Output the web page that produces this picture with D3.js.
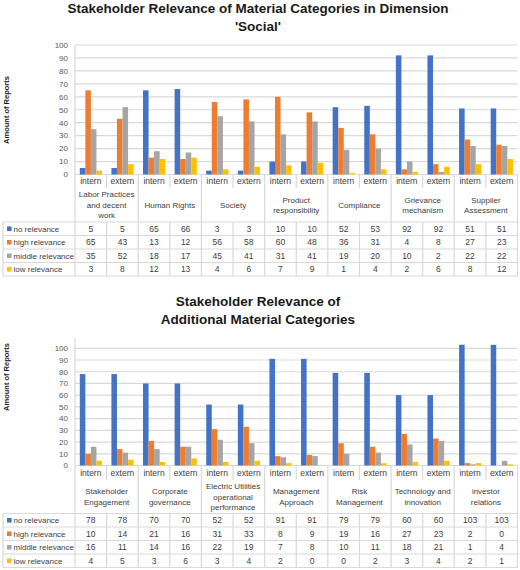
<!DOCTYPE html>
<html>
<head>
<meta charset="utf-8">
<script src="https://cdn.jsdelivr.net/npm/d3@7"></script>
<style>
  body { margin: 0; background: #fff; }
  svg { display: block; font-family: "Liberation Sans", Arial, sans-serif; }
</style>
</head>
<body>
<div id="chart"></div>
<script>
// series shared by both charts
const seriesNames = ["no relevance", "high relevance", "middle relevance", "low relevance"];
const seriesColors = ["#4472C4", "#ED7D31", "#A5A5A5", "#FFC000"];
const subLabels = ["intern", "extern"];
const yTicks = [0, 10, 20, 30, 40, 50, 60, 70, 80, 90, 100];

// chart 1: dimension 'Social'
const socialTitle = ["Stakeholder Relevance of Material Categories in Dimension", "'Social'"];
const socialCategories = [
    ["Labor Practices", "and decent", "work"],
    ["Human Rights"],
    ["Society"],
    ["Product", "responsibility"],
    ["Compliance"],
    ["Grievance", "mechanism"],
    ["Supplier", "Assessment"]
];
const socialNo     = [5, 5, 65, 66, 3, 3, 10, 10, 52, 53, 92, 92, 51, 51];
const socialHigh   = [65, 43, 13, 12, 56, 58, 60, 48, 36, 31, 4, 8, 27, 23];
const socialMiddle = [35, 52, 18, 17, 45, 41, 31, 41, 19, 20, 10, 2, 22, 22];
const socialLow    = [3, 8, 12, 13, 4, 6, 7, 9, 1, 4, 2, 6, 8, 12];

// chart 2: additional categories
const addTitle = ["Stakeholder Relevance of", "Additional Material Categories"];
const addCategories = [
    ["Stakeholder", "Engagement"],
    ["Corporate", "governance"],
    ["Electric Utilities", "operational", "performance"],
    ["Management", "Approach"],
    ["Risk", "Management"],
    ["Technology and", "innovation"],
    ["investor", "relations"]
];
const addNo     = [78, 78, 70, 70, 52, 52, 91, 91, 79, 79, 60, 60, 103, 103];
const addHigh   = [10, 14, 21, 16, 31, 33, 8, 9, 19, 16, 27, 23, 2, 0];
const addMiddle = [16, 11, 14, 16, 22, 19, 7, 8, 10, 11, 18, 21, 1, 4];
const addLow    = [4, 5, 3, 6, 3, 4, 2, 0, 0, 2, 3, 4, 2, 1];

const width = 520, height = 570;
const svg = d3.select("#chart").append("svg")
    .attr("width", width)
    .attr("height", height);

const plotLeft = 75, plotRight = 517.5, tableLeft = 3;
const lineColor = "#d9d9d9";

function drawChart(cfg) {
    const g = svg.append("g");
    const values = [cfg.no, cfg.high, cfg.middle, cfg.low];
    const columns = d3.range(cfg.categories.length * 2);

    // titles
    g.selectAll(".title")
        .data(cfg.title)
        .enter().append("text")
        .attr("x", 258)
        .attr("y", (d, i) => cfg.titleY[i])
        .attr("text-anchor", "middle")
        .attr("font-size", "13.5px")
        .attr("font-weight", "bold")
        .attr("fill", "#1a1a1a")
        .text(d => d);

    // y axis title
    g.append("text")
        .attr("transform", `translate(9,${cfg.yTitleY}) rotate(-90)`)
        .attr("text-anchor", "middle")
        .attr("font-size", "7.5px")
        .attr("font-weight", "bold")
        .attr("fill", "#1a1a1a")
        .text("Amount of Reports");

    const y = d3.scaleLinear().domain([0, 100]).range([cfg.zeroY, cfg.topY]);
    const x = d3.scaleBand().domain(columns).range([plotLeft, plotRight]);
    const xs = d3.scaleBand().domain(d3.range(4)).range([4.8, x.bandwidth() - 4.6]);

    // gridlines
    g.selectAll(".grid")
        .data(yTicks)
        .enter().append("line")
        .attr("x1", plotLeft).attr("x2", plotRight)
        .attr("y1", d => y(d)).attr("y2", d => y(d))
        .attr("stroke", lineColor)
        .attr("stroke-width", 1.2);

    // y tick labels
    g.selectAll(".ytick")
        .data(yTicks)
        .enter().append("text")
        .attr("x", 68)
        .attr("y", d => y(d))
        .attr("dy", "0.35em")
        .attr("text-anchor", "end")
        .attr("font-size", "8px")
        .attr("fill", "#595959")
        .text(d => d);

    // bars
    values.forEach((vals, s) => {
        g.selectAll(".bar" + s)
            .data(vals)
            .enter().append("rect")
            .attr("x", (d, i) => x(i) + xs(s))
            .attr("y", d => y(d))
            .attr("width", xs.bandwidth())
            .attr("height", d => cfg.zeroY - y(d))
            .attr("fill", seriesColors[s]);
    });

    // left axis line down through the table
    g.append("line")
        .attr("x1", plotLeft).attr("x2", plotLeft)
        .attr("y1", cfg.axisTop).attr("y2", cfg.tableBottom)
        .attr("stroke", lineColor).attr("stroke-width", 1.2);

    // dividers: short between intern/extern, long between categories
    columns.slice(1).concat([columns.length]).forEach(c => {
        const xx = c < columns.length ? x(c) : plotRight;
        const isCat = c % 2 === 0;
        if (isCat) {
            g.append("line")
                .attr("x1", xx).attr("x2", xx)
                .attr("y1", cfg.zeroY).attr("y2", cfg.tableBottom)
                .attr("stroke", lineColor).attr("stroke-width", 1.2);
        } else {
            g.append("line")
                .attr("x1", xx).attr("x2", xx)
                .attr("y1", cfg.zeroY).attr("y2", cfg.subBottom)
                .attr("stroke", lineColor).attr("stroke-width", 1.2);
            g.append("line")
                .attr("x1", xx).attr("x2", xx)
                .attr("y1", cfg.nameBottom).attr("y2", cfg.tableBottom)
                .attr("stroke", lineColor).attr("stroke-width", 1.2);
        }
    });

    // intern / extern labels
    g.selectAll(".sub")
        .data(columns)
        .enter().append("text")
        .attr("x", d => x(d) + x.bandwidth() / 2)
        .attr("y", (cfg.zeroY + cfg.subBottom) / 2)
        .attr("dy", "0.35em")
        .attr("text-anchor", "middle")
        .attr("font-size", "8.5px")
        .attr("fill", "#404040")
        .text(d => subLabels[d % 2]);

    // category names
    const nameMid = (cfg.subBottom + cfg.nameBottom) / 2;
    const lineH = 10.5;
    cfg.categories.forEach((lines, k) => {
        const cx = x(k * 2) + x.bandwidth();
        lines.forEach((t, j) => {
            g.append("text")
                .attr("x", cx)
                .attr("y", nameMid + (j - (lines.length - 1) / 2) * lineH)
                .attr("dy", "0.35em")
                .attr("text-anchor", "middle")
                .attr("font-size", "8px")
                .attr("fill", "#404040")
                .text(t);
        });
    });

    // data table
    const rowH = (cfg.tableBottom - cfg.nameBottom) / 4;
    d3.range(5).forEach(r => {
        const yy = cfg.nameBottom + r * rowH;
        g.append("line")
            .attr("x1", tableLeft).attr("x2", plotRight)
            .attr("y1", yy).attr("y2", yy)
            .attr("stroke", lineColor).attr("stroke-width", 1.2);
    });
    g.append("line")
        .attr("x1", tableLeft).attr("x2", tableLeft)
        .attr("y1", cfg.nameBottom).attr("y2", cfg.tableBottom)
        .attr("stroke", lineColor).attr("stroke-width", 1.2);

    seriesNames.forEach((name, s) => {
        const cy = cfg.nameBottom + (s + 0.5) * rowH;
        g.append("rect")
            .attr("x", 7).attr("y", cy - 2.3)
            .attr("width", 4.6).attr("height", 4.6)
            .attr("fill", seriesColors[s]);
        g.append("text")
            .attr("x", 13.5).attr("y", cy)
            .attr("dy", "0.35em")
            .attr("font-size", "8px")
            .attr("fill", "#404040")
            .text(name);
        g.selectAll(".val" + s)
            .data(values[s])
            .enter().append("text")
            .attr("x", (d, i) => x(i) + x.bandwidth() / 2)
            .attr("y", cy)
            .attr("dy", "0.35em")
            .attr("text-anchor", "middle")
            .attr("font-size", "8.5px")
            .attr("fill", "#404040")
            .text(d => d);
    });
}

drawChart({
    title: socialTitle, titleY: [13, 31], yTitleY: 110,
    categories: socialCategories,
    no: socialNo, high: socialHigh, middle: socialMiddle, low: socialLow,
    topY: 45, zeroY: 174.5, axisTop: 45,
    subBottom: 188, nameBottom: 222, tableBottom: 276
});

drawChart({
    title: addTitle, titleY: [306, 324], yTitleY: 377,
    categories: addCategories,
    no: addNo, high: addHigh, middle: addMiddle, low: addLow,
    topY: 348.3, zeroY: 465.5, axisTop: 338,
    subBottom: 480, nameBottom: 513.5, tableBottom: 567.5
});
</script>
</body>
</html>
